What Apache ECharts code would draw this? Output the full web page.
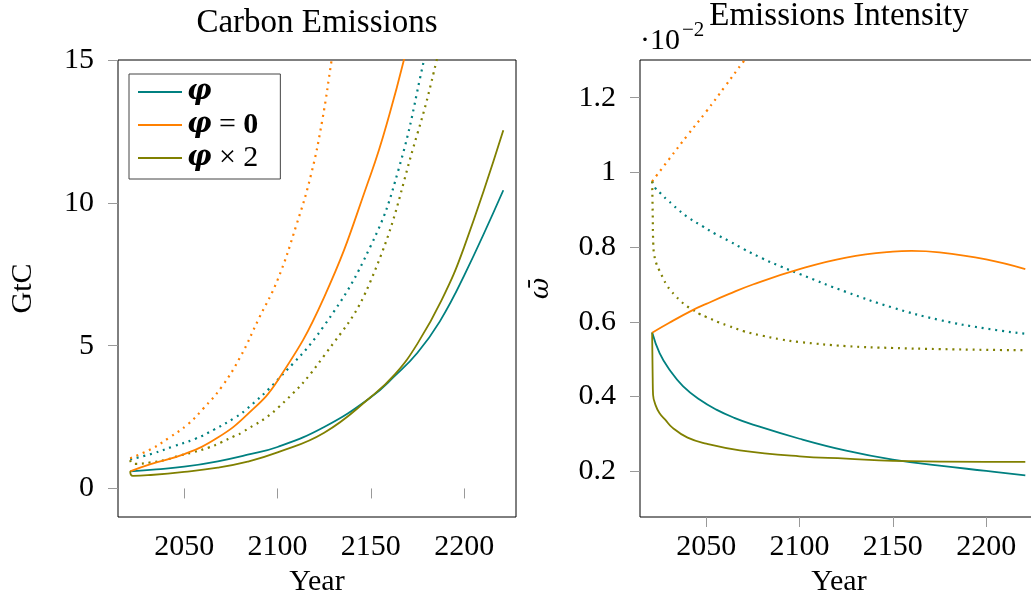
<!DOCTYPE html>
<html>
<head>
<meta charset="utf-8">
<script src="https://cdn.jsdelivr.net/npm/echarts@6/dist/echarts.min.js"></script>
<style>
html,body{margin:0;padding:0;background:#fff;}
#chart{width:1031px;height:594px;}
</style>
</head>
<body>
<div id="chart"></div>
<script>
// ---------- data ----------
const xTicks = [2050, 2100, 2150, 2200];
const leftYTicks = [0, 5, 10, 15];
const rightYTicks = [0.2, 0.4, 0.6, 0.8, 1.0, 1.2];
const legendNames = ['φ', 'φ = 0', 'φ × 2'];

// Carbon Emissions (GtC): [year, value]
const ceTeal = [[2021,0.60],[2035,0.67],[2050,0.76],[2068,0.95],[2084,1.18],[2100,1.45],[2125,2.15],[2150,3.19],[2163,3.95],[2175,4.75],[2187,5.85],[2200,7.45],[2221,10.44]];
const ceOrange = [[2021,0.60],[2032,0.85],[2050,1.2],[2068,1.78],[2084,2.6],[2100,3.77],[2125,6.7],[2150,11.0],[2160,13.1],[2170,15.6],[2175,17.0]];
const ceOlive = [[2021,0.60],[2021.5,0.47],[2022.5,0.44],[2032,0.47],[2050,0.58],[2068,0.73],[2084,0.94],[2100,1.26],[2125,1.95],[2150,3.2],[2163,4.0],[2175,5.07],[2188,6.6],[2200,8.45],[2221,12.54]];
const ceTealDot = [[2021,1.02],[2033,1.22],[2044,1.47],[2056,1.74],[2066,2.06],[2077,2.47],[2083,2.75],[2100,3.8],[2125,5.7],[2150,8.5],[2165,11.2],[2178.5,15.0],[2185,17.0]];
const ceOrangeDot = [[2021,1.06],[2032,1.37],[2042,1.78],[2052,2.25],[2060,2.78],[2070,3.55],[2080,4.6],[2090,5.95],[2100,7.3],[2110,9.2],[2118,11.0],[2124,12.9],[2129,15.0],[2135,17.5]];
const ceOliveDot = [[2021,0.99],[2022,0.88],[2024,0.86],[2032,0.91],[2040,1.0],[2047,1.14],[2055,1.27],[2063,1.43],[2070,1.62],[2077,1.84],[2081,1.96],[2100,2.81],[2125,4.65],[2150,7.28],[2175,12.43],[2185.3,15.0],[2190,16.5]];

// Emissions Intensity (x 10^-2): [year, value]
const eiTeal = [[2021,0.572],[2025,0.516],[2030.4,0.471],[2037.5,0.428],[2046.4,0.392],[2055.4,0.365],[2065,0.343],[2075,0.325],[2100,0.287],[2125,0.255],[2150,0.231],[2175,0.215],[2200,0.201],[2221,0.189]];
const eiOrange = [[2021,0.571],[2030,0.597],[2043,0.632],[2050,0.648],[2062,0.674],[2075,0.70],[2100,0.741],[2125,0.772],[2150,0.788],[2160,0.790],[2175,0.786],[2200,0.767],[2221,0.741]];
const eiOlive = [[2021,0.571],[2021.3,0.45],[2021.5,0.405],[2023,0.375],[2025,0.355],[2028,0.338],[2032,0.316],[2040,0.29],[2050,0.274],[2068,0.256],[2100,0.24],[2125,0.234],[2150,0.228],[2200,0.225],[2221,0.225]];
const eiTealDot = [[2021,0.976],[2023,0.956],[2026,0.942],[2029,0.927],[2032,0.914],[2035,0.90],[2041,0.877],[2048,0.856],[2055,0.835],[2062,0.817],[2070,0.795],[2080,0.77],[2090,0.748],[2100,0.728],[2125,0.680],[2150,0.638],[2175,0.605],[2200,0.582],[2221,0.568]];
const eiOrangeDot = [[2021,0.976],[2030,1.035],[2040,1.10],[2050,1.163],[2060,1.23],[2070,1.297],[2080,1.36]];
const eiOliveDot = [[2021,0.976],[2021.3,0.894],[2021.6,0.81],[2022.1,0.78],[2023.4,0.754],[2025,0.736],[2026.8,0.718],[2028.6,0.70],[2030.9,0.684],[2033.6,0.669],[2036.4,0.655],[2039.6,0.642],[2042.8,0.632],[2046.4,0.621],[2050,0.613],[2057,0.598],[2061,0.591],[2070,0.575],[2080,0.563],[2090,0.553],[2100,0.546],[2125,0.535],[2150,0.530],[2175,0.527],[2200,0.525],[2221,0.524]];

// ---------- style ----------
const FONT = "'Liberation Serif', 'Times New Roman', serif";
const GREEK = "'DejaVu Serif', serif";
const TEAL = '#008080', ORANGE = '#ff8000', OLIVE = '#808000';
const FS = 30;

function xAxis(gridIndex) {
  return {
    type: 'value', gridIndex: gridIndex, min: 2014.5, max: 2227.8,
    name: 'Year', nameLocation: 'middle', nameGap: 37,
    nameTextStyle: {fontFamily: FONT, fontSize: FS, color: '#000'},
    axisLine: {show: false},
    axisTick: {show: true, inside: false, length: 10, customValues: xTicks, lineStyle: {color: '#999', width: 1}},
    axisLabel: {customValues: xTicks, margin: 15, fontFamily: FONT, fontSize: FS, color: '#000', formatter: v => String(Math.round(v))},
    splitLine: {show: false}
  };
}
function yAxis(gridIndex, min, max, ticks, name, gap, fmt, nameStyle) {
  return {
    type: 'value', gridIndex: gridIndex, min: min, max: max,
    name: name, nameLocation: 'middle', nameGap: gap, nameRotate: 90,
    nameTextStyle: Object.assign({fontFamily: FONT, fontSize: FS, color: '#000'}, nameStyle || {}),
    axisLine: {show: false},
    axisTick: {show: true, inside: false, length: 10, customValues: ticks, lineStyle: {color: '#999', width: 1}},
    axisLabel: {customValues: ticks, margin: 24, fontFamily: FONT, fontSize: FS, color: '#000', formatter: fmt},
    splitLine: {show: false}
  };
}
function line(name, data, color, dotted, g) {
  return {
    type: 'line', name: name, data: data, xAxisIndex: g, yAxisIndex: g,
    symbol: 'none', smooth: 0.45, clip: true,
    lineStyle: dotted ? {color: color, width: 2.2, type: [2, 4.8]} : {color: color, width: 1.8},
    itemStyle: {color: color},
    emphasis: {disabled: true}, z: dotted ? 2 : 3
  };
}

const chart = echarts.init(document.getElementById('chart'), null, {renderer: 'canvas'});
const option = {
  animation: false,
  backgroundColor: '#fff',
  grid: [
    {left: 118, top: 60, width: 398, height: 457, show: true, borderColor: '#000', borderWidth: 1, backgroundColor: 'transparent', outerBoundsMode: 'none'},
    {left: 640, top: 60, width: 398, height: 457, show: true, borderColor: '#000', borderWidth: 1, backgroundColor: 'transparent', outerBoundsMode: 'none'}
  ],
  xAxis: [xAxis(0), xAxis(1)],
  yAxis: [
    yAxis(0, -1, 15, leftYTicks, 'GtC', 80, v => String(Math.round(v))),
    yAxis(1, 0.0775, 1.301, rightYTicks, 'ω\u0304', 86, v => String(+(+v).toFixed(1)), {fontFamily: GREEK, fontStyle: 'italic', fontSize: 26})
  ],
  legend: {
    data: legendNames, orient: 'vertical', left: 129, top: 74,
    icon: 'rect', itemWidth: 44, itemHeight: 2, itemGap: 3,
    padding: [3, 22, 6, 9], borderColor: '#444', borderWidth: 1, backgroundColor: '#fff',
    selectedMode: false,
    textStyle: {
      fontFamily: FONT, fontSize: FS, color: '#000', lineHeight: 30,
      rich: {
        p: {fontFamily: GREEK, fontSize: 27, fontStyle: 'italic', fontWeight: 'bold', color: '#000', lineHeight: 30},
        b: {fontFamily: FONT, fontSize: FS, fontWeight: 'bold', color: '#000', lineHeight: 30},
        n: {fontFamily: FONT, fontSize: FS, color: '#000', lineHeight: 30}
      }
    },
    formatter: function (name) {
      if (name === 'φ') return '{p|φ}';
      if (name === 'φ = 0') return '{p|φ}{n| = }{b|0}';
      return '{p|φ}{n| × 2}';
    }
  },
  graphic: [
    {type: 'text', x: 317, y: 7, style: {text: 'Carbon Emissions', font: '33px ' + FONT, fill: '#000', align: 'center', verticalAlign: 'top'}},
    {type: 'text', x: 839, y: 0, style: {text: 'Emissions Intensity', font: '33px ' + FONT, fill: '#000', align: 'center', verticalAlign: 'top'}},
    {type: 'text', x: 640, y: 41, style: {text: '·10', font: '30px ' + FONT, fill: '#000', align: 'left', verticalAlign: 'middle'}},
    {type: 'text', x: 682, y: 30, style: {text: '−2', font: '21px ' + FONT, fill: '#000', align: 'left', verticalAlign: 'middle'}}
  ],
  series: [
    line('φ (dotted)', ceTealDot, TEAL, true, 0),
    line('φ = 0 (dotted)', ceOrangeDot, ORANGE, true, 0),
    line('φ × 2 (dotted)', ceOliveDot, OLIVE, true, 0),
    line('φ', ceTeal, TEAL, false, 0),
    line('φ = 0', ceOrange, ORANGE, false, 0),
    line('φ × 2', ceOlive, OLIVE, false, 0),
    line('φ (dotted) ', eiTealDot, TEAL, true, 1),
    line('φ = 0 (dotted) ', eiOrangeDot, ORANGE, true, 1),
    line('φ × 2 (dotted) ', eiOliveDot, OLIVE, true, 1),
    line('φ', eiTeal, TEAL, false, 1),
    line('φ = 0', eiOrange, ORANGE, false, 1),
    line('φ × 2', eiOlive, OLIVE, false, 1)
  ]
};
chart.setOption(option);
</script>
</body>
</html>
